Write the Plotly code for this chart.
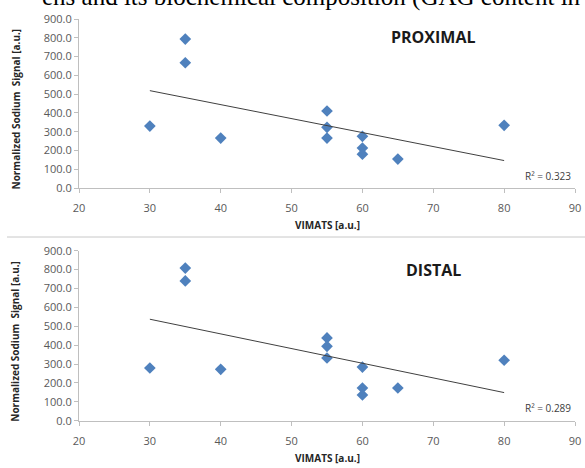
import numpy as np
import plotly.graph_objects as go

# ---- data ----
vimats = [30, 35, 35, 40, 55, 55, 55, 60, 60, 60, 65, 80]
proximal_signal = [330, 793, 667, 266, 410, 323, 266, 275, 213, 180, 154, 334]
distal_signal = [279, 808, 740, 272, 438, 394, 332, 284, 173, 136, 173, 320]
panel_names = ["PROXIMAL", "DISTAL"]
r2_labels = ["R² = 0.323", "R² = 0.289"]
x_ticks = [20, 30, 40, 50, 60, 70, 80, 90]
y_ticks = [0, 100, 200, 300, 400, 500, 600, 700, 800, 900]
y_tick_text = [f"{v:.1f}" for v in y_ticks]
header_text = "ens and its biochemical composition (GAG content in"

W, H = 585, 468
def px(x):
    return x / W
def py(y):
    return 1 - y / H

BLUE = "#4F81BD"
AXC = "#BFBFBF"
TICKC = "#595959"
FONT = "Open Sans"

fig = go.Figure()

panels = [
    dict(sig=proximal_signal, top=19, bot=188, xa="x", ya="y", xtitle_y=225, label_y=37, r2_y=176),
    dict(sig=distal_signal, top=250.7, bot=420.7, xa="x2", ya="y2", xtitle_y=458, label_y=270, r2_y=408),
]
x0, x1 = 79, 575

annotations = []
for i, p in enumerate(panels):
    xs = np.array(vimats, dtype=float)
    ys = np.array(p["sig"], dtype=float)
    fig.add_trace(go.Scatter(x=vimats, y=p["sig"], mode="markers",
                             marker=dict(symbol="diamond", size=9, color=BLUE),
                             xaxis=p["xa"], yaxis=p["ya"], showlegend=False))
    m, b = np.polyfit(xs, ys, 1)
    lx = np.array([min(vimats), max(vimats)], dtype=float)
    fig.add_trace(go.Scatter(x=lx, y=m * lx + b, mode="lines",
                             line=dict(color="#404040", width=1),
                             xaxis=p["xa"], yaxis=p["ya"], showlegend=False))
    sfx = "" if i == 0 else "2"
    axis_common = dict(showline=True, linecolor=AXC, linewidth=1, ticks="outside",
                       tickcolor=AXC, ticklen=4, showgrid=False, zeroline=False,
                       automargin=False,
                       tickfont=dict(family=FONT, size=11, color=TICKC))
    fig.update_layout(**{
        "xaxis" + sfx: dict(domain=[px(x0), px(x1)], range=[20, 90], tickvals=x_ticks,
                            anchor="y" + sfx, ticklabelstandoff=6, **axis_common),
        "yaxis" + sfx: dict(domain=[py(p["bot"]), py(p["top"])], range=[0, 900],
                            tickvals=y_ticks, ticktext=y_tick_text, anchor="x" + sfx,
                            **axis_common),
    })
    annotations.append(dict(text="<b>VIMATS [a.u.]</b>", x=px(327), y=py(p["xtitle_y"]),
                            xanchor="center", yanchor="middle",
                            xref="paper", yref="paper", showarrow=False,
                            font=dict(family=FONT, size=10, color="#262626")))
    annotations.append(dict(text="<b>Normalized Sodium&nbsp; Signal [a.u.]</b>", x=px(15),
                            y=py((p["top"] + p["bot"]) / 2 + 6), textangle=-90,
                            xanchor="center", yanchor="middle",
                            xref="paper", yref="paper", showarrow=False,
                            font=dict(family=FONT, size=10, color="#262626")))
    annotations.append(dict(text="<b>" + panel_names[i] + "</b>", x=px(433), y=py(p["label_y"]),
                            xanchor="center", yanchor="middle",
                            xref="paper", yref="paper", showarrow=False,
                            font=dict(family=FONT, size=16, color="#1a1a1a")))
    annotations.append(dict(text=r2_labels[i], x=px(548), y=py(p["r2_y"]),
                            xanchor="center", yanchor="middle",
                            xref="paper", yref="paper", showarrow=False,
                            font=dict(family=FONT, size=10, color="#404040")))

annotations.append(dict(text=header_text, x=px(40), y=py(13), xanchor="left", yanchor="bottom",
                        xref="paper", yref="paper", showarrow=False,
                        font=dict(family="Liberation Serif", size=25, color="black")))

fig.update_layout(
    width=W, height=H, margin=dict(l=0, r=0, t=0, b=0, autoexpand=False),
    paper_bgcolor="white", plot_bgcolor="white",
    annotations=annotations,
    shapes=[dict(type="line", xref="paper", yref="paper", x0=px(7), x1=1,
                 y0=py(237), y1=py(237), line=dict(color="#C8C8C8", width=1))],
)

fig.write_html("out.html", config={"displayModeBar": False},
               post_script="document.body.style.margin='0';document.body.style.overflow='hidden';")
